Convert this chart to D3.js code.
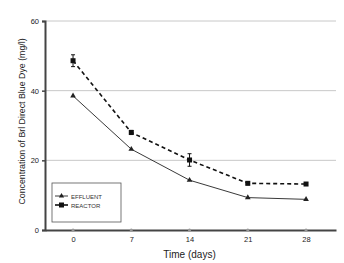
<!DOCTYPE html>
<html>
<head>
<meta charset="utf-8">
<script src="https://cdn.jsdelivr.net/npm/d3@7"></script>
<style>
  body { margin: 0; background: #fff; }
  text { font-family: "Liberation Sans", Arial, sans-serif; }
</style>
</head>
<body>
<div id="chart"></div>
<script>
const days = [0, 7, 14, 21, 28];
const effluent = [38.5, 23.2, 14.3, 9.3, 8.8];
const reactor = [48.6, 28.0, 20.1, 13.4, 13.2];
const reactorErr = [1.7, 0.6, 1.8, 0.4, 0.4];
const yTicks = [0, 20, 40, 60];

const margin = {top: 21, right: 8, bottom: 33, left: 45},
  width = 344 - margin.left - margin.right,
  height = 263 - margin.top - margin.bottom;

const svg = d3.select("#chart")
  .append("svg")
  .attr("width", 344)
  .attr("height", 263)
  .append("g")
  .attr("transform", `translate(${margin.left},${margin.top})`);

const x = d3.scaleLinear().domain([-3.37, 31.6]).range([0, width]);
const y = d3.scaleLinear().domain([0, 60]).range([height, 0]);

// grid
svg.selectAll(".grid")
  .data(yTicks.filter(d => d > 0))
  .join("line")
  .attr("x1", 0).attr("x2", width)
  .attr("y1", d => y(d)).attr("y2", d => y(d))
  .attr("stroke", "#c8c8c8").attr("stroke-width", 1);

// y axis
const yAxis = svg.append("g")
  .call(d3.axisLeft(y).tickValues(yTicks).tickSize(3).tickPadding(3));
yAxis.select(".domain").attr("stroke", "#444").attr("stroke-width", 2);
yAxis.selectAll(".tick line").attr("stroke", "#444").attr("stroke-width", 1.5);
yAxis.selectAll("text").attr("font-size", 7.5).attr("fill", "#222");

// x axis
const xAxis = svg.append("g")
  .attr("transform", `translate(0,${height})`)
  .call(d3.axisBottom(x).tickValues(days).tickSize(0).tickPadding(7).tickSizeOuter(0));
xAxis.select(".domain").attr("stroke", "#444").attr("stroke-width", 2);
xAxis.selectAll("text").attr("font-size", 7.5).attr("fill", "#222");
svg.selectAll(".xdot")
  .data(days)
  .join("circle")
  .attr("cx", d => x(d)).attr("cy", height)
  .attr("r", 1.6).attr("fill", "#999");

// axis titles
svg.append("text")
  .attr("x", x(14)).attr("y", height + 28)
  .attr("text-anchor", "middle")
  .attr("font-size", 10).attr("fill", "#222")
  .text("Time (days)");
svg.append("text")
  .attr("transform", `translate(-20,${height / 2 - 4}) rotate(-90)`)
  .attr("text-anchor", "middle")
  .attr("font-size", 8.8).attr("fill", "#222")
  .text("Concentration of Brl Direct Blue Dye (mg/l)");

const line = d3.line().x((d, i) => x(days[i])).y(d => y(d));

// reactor
svg.append("path").datum(reactor)
  .attr("d", line).attr("fill", "none")
  .attr("stroke", "#111").attr("stroke-width", 1.6)
  .attr("stroke-dasharray", "4,3");
svg.selectAll(".err")
  .data(reactor)
  .join("g")
  .each(function(d, i) {
    const g = d3.select(this), cx = x(days[i]);
    g.append("line").attr("x1", cx).attr("x2", cx)
      .attr("y1", y(d - reactorErr[i])).attr("y2", y(d + reactorErr[i]))
      .attr("stroke", "#111").attr("stroke-width", 1);
    [d - reactorErr[i], d + reactorErr[i]].forEach(v => {
      g.append("line").attr("x1", cx - 2).attr("x2", cx + 2)
        .attr("y1", y(v)).attr("y2", y(v))
        .attr("stroke", "#111").attr("stroke-width", 1);
    });
  });
svg.selectAll(".rsq")
  .data(reactor)
  .join("rect")
  .attr("x", (d, i) => x(days[i]) - 2.5).attr("y", d => y(d) - 2.5)
  .attr("width", 5).attr("height", 5).attr("fill", "#111");

// effluent
svg.append("path").datum(effluent)
  .attr("d", line).attr("fill", "none")
  .attr("stroke", "#222").attr("stroke-width", 0.9);
svg.selectAll(".etri")
  .data(effluent)
  .join("path")
  .attr("d", d3.symbol(d3.symbolTriangle, 14))
  .attr("transform", (d, i) => `translate(${x(days[i])},${y(d)})`)
  .attr("fill", "#222");

// legend
const lg = svg.append("g").attr("transform", "translate(7,162)");
lg.append("rect").attr("width", 69).attr("height", 39)
  .attr("fill", "#fff").attr("stroke", "#555").attr("stroke-width", 0.8);
lg.append("line").attr("x1", 3).attr("x2", 16).attr("y1", 13).attr("y2", 13)
  .attr("stroke", "#222").attr("stroke-width", 0.9);
lg.append("path").attr("d", d3.symbol(d3.symbolTriangle, 12))
  .attr("transform", "translate(9.5,13)").attr("fill", "#222");
lg.append("line").attr("x1", 3).attr("x2", 16).attr("y1", 22).attr("y2", 22)
  .attr("stroke", "#111").attr("stroke-width", 1.6);
lg.append("rect").attr("x", 7).attr("y", 19.5).attr("width", 5).attr("height", 5).attr("fill", "#111");
lg.append("text").attr("x", 19).attr("y", 15.5).attr("font-size", 6).attr("fill", "#333").text("EFFLUENT");
lg.append("text").attr("x", 19).attr("y", 24.5).attr("font-size", 6).attr("fill", "#333").text("REACTOR");
</script>
</body>
</html>
